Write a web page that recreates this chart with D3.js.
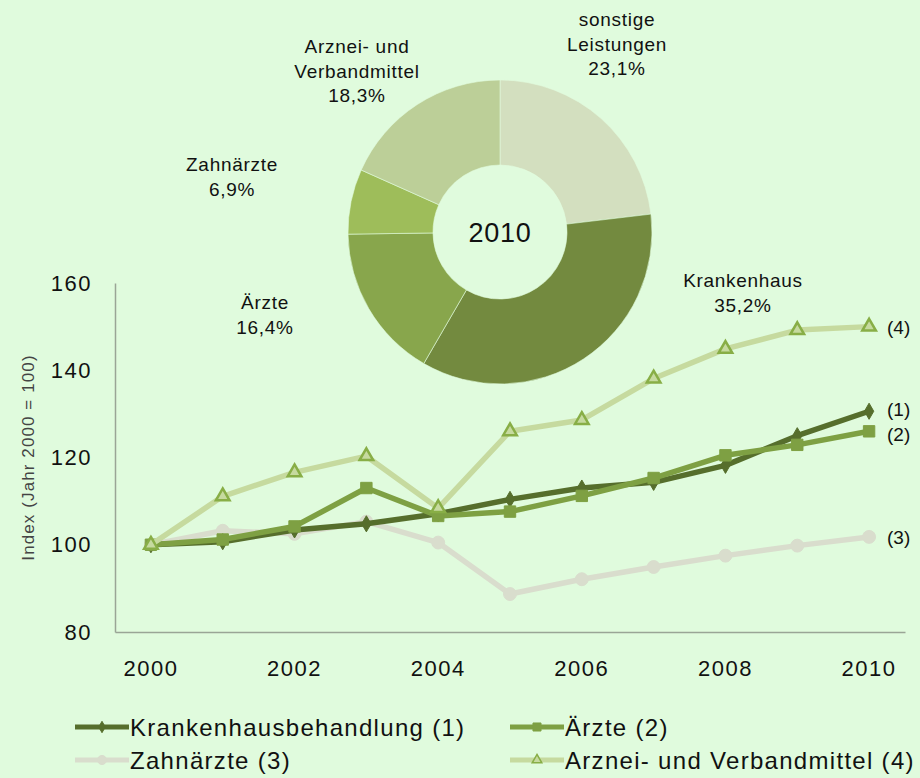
<!DOCTYPE html>
<html>
<head>
<meta charset="utf-8">
<script src="https://cdn.jsdelivr.net/npm/d3@7"></script>
<style>
  body { margin: 0; background: #e0fbdd; }
  svg { display: block; font-family: "Liberation Sans", Arial, sans-serif; }
</style>
</head>
<body>
<div id="chart"></div>
<script>
// ---------- DATA ----------
var years = [2000, 2001, 2002, 2003, 2004, 2005, 2006, 2007, 2008, 2009, 2010];
var tickYears = [2000, 2002, 2004, 2006, 2008, 2010];
var yTicks = [80, 100, 120, 140, 160];

var krankenhaus = [100, 100.7, 103.4, 104.8, 107.1, 110.4, 113.0, 114.3, 118.2, 125.0, 130.6];
var aerzte      = [100, 101.2, 104.2, 113.0, 106.6, 107.6, 111.2, 115.3, 120.5, 122.9, 126.0];
var zahnaerzte  = [100, 103.2, 102.5, 105.3, 100.5, 88.7, 92.1, 94.9, 97.5, 99.8, 101.8];
var arznei      = [100, 111.1, 116.6, 120.3, 108.4, 126.0, 128.6, 138.1, 144.9, 149.2, 150.0];

var seriesNames = ["Krankenhausbehandlung (1)", "Ärzte (2)", "Zahnärzte (3)", "Arznei- und Verbandmittel (4)"];
var endTags = ["(1)", "(2)", "(3)", "(4)"];

var pieLabels = ["sonstige Leistungen", "Krankenhaus", "Ärzte", "Zahnärzte", "Arznei- und Verbandmittel"];
var pieValues = [23.1, 35.2, 16.4, 6.9, 18.3];
var pieTexts  = [["sonstige", "Leistungen", "23,1%"], ["Krankenhaus", "35,2%"], ["Ärzte", "16,4%"],
                 ["Zahnärzte", "6,9%"], ["Arznei- und", "Verbandmittel", "18,3%"]];

// ---------- PAGE ----------
var W = 920, H = 778;
var svg = d3.select('#chart').append('svg')
    .attr('width', W)
    .attr('height', H);

svg.append('rect').attr('width', W).attr('height', H).attr('fill', '#e0fbdd');

var plotLeft = 115, plotRight = 905, plotTop = 283, plotBottom = 632;

var x = d3.scaleBand().domain(years).range([plotLeft, plotRight]);
var xc = function(d){ return x(d) + x.bandwidth() / 2; };
var y = d3.scaleLinear().domain([80, 160]).range([plotBottom, plotTop]);

// axes
var yAxis = svg.append('g')
    .attr('transform', 'translate(' + plotLeft + ',0)')
    .call(d3.axisLeft(y).tickValues(yTicks).tickSize(0).tickPadding(23));
var xAxis = svg.append('g')
    .attr('transform', 'translate(0,' + plotBottom + ')')
    .call(d3.axisBottom(x).tickValues(tickYears).tickSize(0).tickPadding(28));

[yAxis, xAxis].forEach(function(a){
    a.select('.domain').attr('stroke', '#9aa596').attr('stroke-width', 1.5);
    a.selectAll('text').attr('font-size', 22).attr('fill', '#111')
        .attr('letter-spacing', 1.5)
        .attr('font-family', '"Liberation Sans", Arial, sans-serif');
});

svg.append('text')
    .attr('transform', 'translate(34,' + ((plotTop + plotBottom) / 2) + ') rotate(-90)')
    .attr('text-anchor', 'middle')
    .attr('font-size', 17)
    .attr('letter-spacing', 1.1)
    .attr('fill', '#444')
    .text('Index (Jahr 2000 = 100)');

// ---------- DONUT ----------
var cx = 500, cy = 232;
var pieColors = ['#d3dfbf', '#738a3f', '#88a64c', '#9ebd5a', '#bccf98'];
var pie = d3.pie().sort(null).value(function(d){ return d; });
var arc = d3.arc().innerRadius(67).outerRadius(152);

var donut = svg.append('g').attr('transform', 'translate(' + cx + ',' + cy + ')');
donut.selectAll('path')
    .data(pie(pieValues))
    .enter()
    .append('path')
        .attr('d', arc)
        .attr('fill', function(d, i){ return pieColors[i]; })
        .attr('stroke', '#e0fbdd')
        .attr('stroke-width', 0.6);

donut.append('text')
    .attr('text-anchor', 'middle')
    .attr('y', 10)
    .attr('font-size', 27)
    .attr('letter-spacing', 0.8)
    .attr('fill', '#111')
    .text('2010');

var pieLabelPos = [[617, 26], [743, 287], [265, 309], [232, 171], [357, 53]];
pieTexts.forEach(function(lines, i){
    var t = svg.append('text')
        .attr('text-anchor', 'middle')
        .attr('font-size', 19)
        .attr('letter-spacing', 0.7)
        .attr('fill', '#111');
    lines.forEach(function(l, j){
        t.append('tspan')
            .attr('x', pieLabelPos[i][0])
            .attr('y', pieLabelPos[i][1] + j * 24.5)
            .text(l);
    });
});

// ---------- LINES ----------
var series = [
    { values: krankenhaus, line: '#566e2c', marker: 'diamond', fill: '#566e2c', stroke: '#566e2c', size: 75 },
    { values: aerzte,      line: '#7ea043', marker: 'square',  fill: '#7ea043', stroke: '#7ea043', size: 130 },
    { values: zahnaerzte,  line: '#d9ddcd', marker: 'circle',  fill: '#d9ddcd', stroke: '#d9ddcd', size: 130 },
    { values: arznei,      line: '#c6da9f', marker: 'triangle', fill: '#c6da9f', stroke: '#88ae46', size: 80 }
];
var symbolType = { diamond: d3.symbolDiamond, square: d3.symbolSquare, circle: d3.symbolCircle, triangle: d3.symbolTriangle };

var line = d3.line()
    .x(function(d, i){ return xc(years[i]); })
    .y(function(d){ return y(d); });

// draw order: Zahnärzte, Krankenhaus, Ärzte, Arznei
[2, 0, 1, 3].forEach(function(k){
    var s = series[k];
    svg.append('path')
        .attr('d', line(s.values))
        .attr('fill', 'none')
        .attr('stroke', s.line)
        .attr('stroke-width', 5.5)
        .attr('stroke-linejoin', 'round');
    svg.selectAll('.m' + k)
        .data(s.values)
        .enter()
        .append('path')
            .attr('class', 'm' + k)
            .attr('d', d3.symbol().type(symbolType[s.marker]).size(s.size))
            .attr('transform', function(d, i){ return 'translate(' + xc(years[i]) + ',' + y(d) + ')'; })
            .attr('fill', s.fill)
            .attr('stroke', s.stroke)
            .attr('stroke-width', s.marker == 'triangle' ? 2.5 : 1);
});

// end tags
var tagOffsets = [-2, 3, 0, 0];
[krankenhaus, aerzte, zahnaerzte, arznei].forEach(function(v, i){
    svg.append('text')
        .attr('x', 887)
        .attr('y', y(v[v.length - 1]) + tagOffsets[i] + 7)
        .attr('font-size', 19)
        .attr('fill', '#111')
        .text(endTags[i]);
});

// ---------- LEGEND ----------
var legendPos = [[75, 727], [510, 727], [75, 760], [510, 760]];
series.forEach(function(s, i){
    var g = svg.append('g').attr('transform', 'translate(' + legendPos[i][0] + ',' + legendPos[i][1] + ')');
    g.append('line')
        .attr('x1', 0).attr('x2', 54)
        .attr('stroke', s.line)
        .attr('stroke-width', 5);
    g.append('path')
        .attr('d', d3.symbol().type(symbolType[s.marker]).size(s.size * 0.5))
        .attr('transform', 'translate(27,0)')
        .attr('fill', s.fill)
        .attr('stroke', s.stroke)
        .attr('stroke-width', s.marker == 'triangle' ? 1.5 : 1);
    g.append('text')
        .attr('x', 55)
        .attr('y', 9)
        .attr('font-size', 24)
        .attr('letter-spacing', 1.3)
        .attr('fill', '#111')
        .text(seriesNames[i]);
});
</script>
</body>
</html>
